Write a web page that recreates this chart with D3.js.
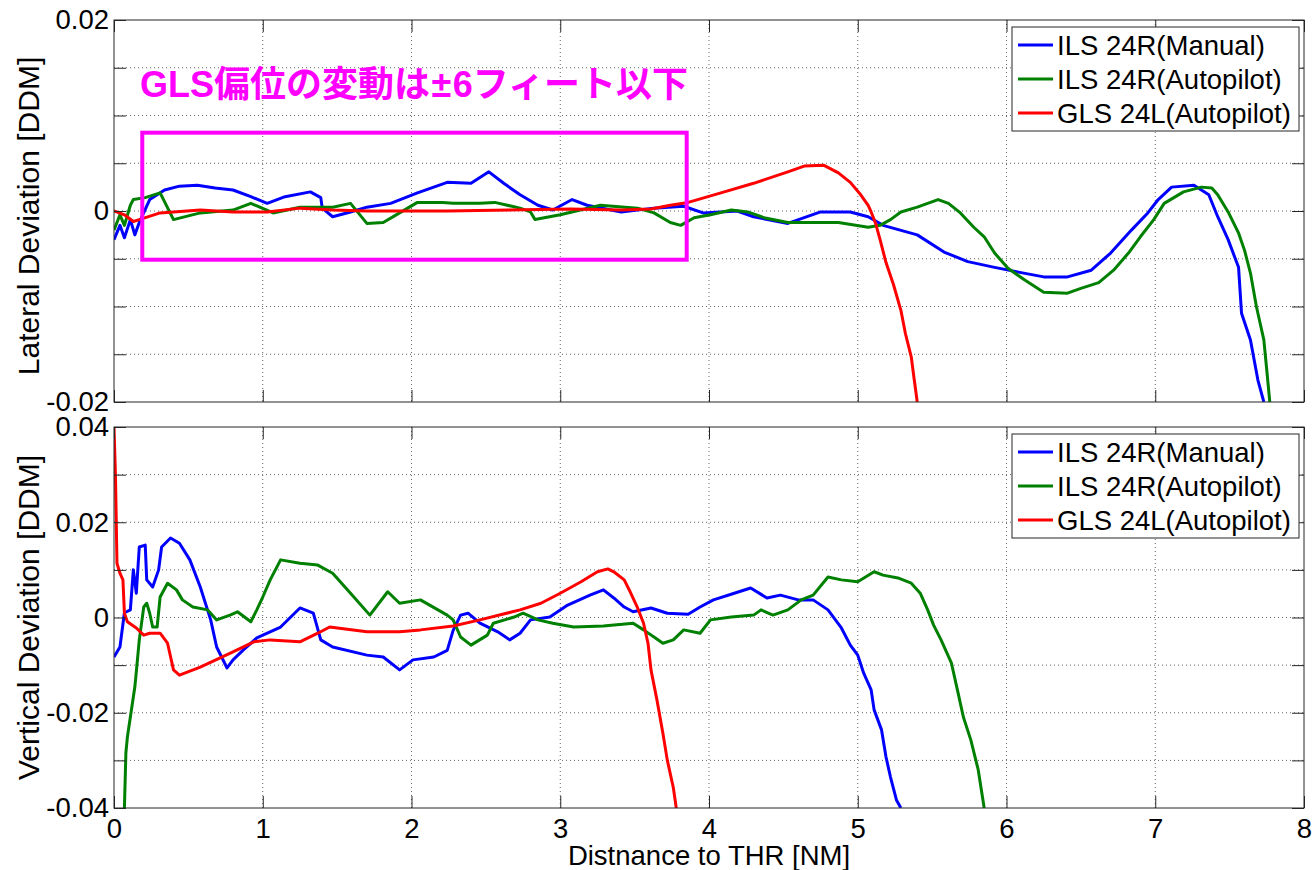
<!DOCTYPE html>
<html>
<head>
<meta charset="utf-8">
<script src="https://cdn.jsdelivr.net/npm/d3@7"></script>
<style>
  body { margin: 0; background: #fff; }
  text { font-family: "Liberation Sans", Arial, sans-serif; fill: #000; }
</style>
</head>
<body>
<svg id="chart" width="1313" height="870"></svg>
<script>
// ---- data: [distance to THR (NM), deviation (DDM)] ----
var seriesNames = ["ILS 24R(Manual)", "ILS 24R(Autopilot)", "GLS 24L(Autopilot)"];
var seriesColors = ["#0000ff", "#008000", "#ff0000"];

var latBlue = [[0.00,-0.0030],[0.04,-0.0015],[0.07,-0.0028],[0.11,-0.0009],[0.14,-0.0025],[0.17,-0.0012],
  [0.24,0.0012],[0.34,0.0022],[0.44,0.0026],[0.56,0.0027],[0.68,0.0024],[0.80,0.0022],[0.92,0.0015],
  [1.03,0.0008],[1.15,0.0015],[1.32,0.0020],[1.39,0.0014],[1.40,0.0003],[1.47,-0.0006],[1.59,-0.0001],
  [1.70,0.0004],[1.86,0.0008],[2.04,0.0019],[2.24,0.0030],[2.40,0.0029],[2.52,0.0041],[2.62,0.0029],
  [2.73,0.0017],[2.85,0.0006],[2.95,0.0001],[3.08,0.0012],[3.18,0.0006],[3.41,-0.0001],[3.63,0.0003],
  [3.83,0.0005],[3.96,-0.0002],[4.19,0.0000],[4.30,-0.0006],[4.53,-0.0013],[4.75,-0.0001],[4.95,-0.0001],
  [5.07,-0.0006],[5.17,-0.0015],[5.40,-0.0025],[5.58,-0.0043],[5.74,-0.0053],[5.92,-0.0059],[6.08,-0.0064],
  [6.25,-0.0069],[6.41,-0.0069],[6.57,-0.0062],[6.70,-0.0044],[6.84,-0.0020],[6.95,-0.0002],[7.02,0.0012],
  [7.11,0.0025],[7.26,0.0027],[7.36,0.0017],[7.42,-0.0006],[7.49,-0.0030],[7.56,-0.0059],[7.58,-0.0107],
  [7.64,-0.0135],[7.69,-0.0177],[7.73,-0.0200]];

var latGreen = [[0.00,-0.0020],[0.04,-0.0004],[0.07,-0.0015],[0.11,0.0006],[0.13,0.0012],[0.21,0.0014],
  [0.31,0.0019],[0.40,-0.0009],[0.58,-0.0002],[0.80,0.0001],[0.92,0.0008],[1.07,-0.0002],[1.25,0.0004],
  [1.47,0.0004],[1.59,0.0008],[1.70,-0.0013],[1.81,-0.0012],[1.92,-0.0002],[2.04,0.0009],[2.21,0.0009],
  [2.28,0.0008],[2.46,0.0008],[2.56,0.0009],[2.73,0.0003],[2.80,-0.0001],[2.83,-0.0009],[3.00,-0.0004],
  [3.27,0.0006],[3.52,0.0003],[3.63,-0.0002],[3.74,-0.0012],[3.81,-0.0015],[3.90,-0.0007],[4.01,-0.0004],
  [4.15,0.0001],[4.26,-0.0001],[4.37,-0.0007],[4.53,-0.0012],[4.87,-0.0012],[5.07,-0.0017],[5.15,-0.0015],
  [5.22,-0.0009],[5.29,-0.0001],[5.40,0.0004],[5.54,0.0012],[5.61,0.0008],[5.69,-0.0002],[5.78,-0.0017],
  [5.85,-0.0027],[5.92,-0.0044],[6.01,-0.0060],[6.12,-0.0072],[6.25,-0.0085],[6.41,-0.0086],[6.50,-0.0081],
  [6.62,-0.0075],[6.72,-0.0062],[6.82,-0.0044],[6.90,-0.0027],[6.99,-0.0009],[7.06,0.0008],[7.19,0.0020],
  [7.31,0.0025],[7.38,0.0024],[7.42,0.0017],[7.49,-0.0001],[7.56,-0.0023],[7.60,-0.0041],[7.64,-0.0065],
  [7.68,-0.0100],[7.73,-0.0135],[7.75,-0.0167],[7.77,-0.0200]];

var latRed = [[0.00,0.0000],[0.07,-0.0004],[0.13,-0.0011],[0.17,-0.0009],[0.31,-0.0002],[0.58,0.0001],
  [0.80,-0.0001],[1.03,-0.0001],[1.25,0.0003],[1.47,0.0001],[1.70,0.0000],[2.24,0.0000],[3.07,0.0002],
  [3.41,0.0001],[3.61,0.0002],[3.74,0.0006],[3.86,0.0009],[4.08,0.0019],[4.30,0.0029],[4.53,0.0041],
  [4.64,0.0047],[4.77,0.0048],[4.87,0.0040],[4.95,0.0030],[5.02,0.0017],[5.07,0.0006],[5.09,-0.0001],
  [5.12,-0.0013],[5.15,-0.0030],[5.19,-0.0054],[5.24,-0.0077],[5.29,-0.0104],[5.32,-0.0128],
  [5.36,-0.0153],[5.38,-0.0177],[5.40,-0.0200]];

var vertBlue = [[0.00,-0.0083],[0.04,-0.0062],[0.07,0.0010],[0.11,0.0016],[0.13,0.0100],[0.15,0.0051],
  [0.17,0.0148],[0.21,0.0152],[0.22,0.0079],[0.26,0.0064],[0.30,0.0100],[0.32,0.0148],[0.38,0.0167],
  [0.44,0.0156],[0.51,0.0121],[0.58,0.0064],[0.65,-0.0005],[0.69,-0.0062],[0.76,-0.0106],[0.80,-0.0089],
  [0.87,-0.0068],[0.96,-0.0043],[1.12,-0.0020],[1.25,0.0020],[1.34,0.0009],[1.39,-0.0047],[1.47,-0.0062],
  [1.70,-0.0079],[1.81,-0.0083],[1.92,-0.0110],[2.01,-0.0089],[2.15,-0.0083],[2.24,-0.0069],[2.28,-0.0027],
  [2.33,0.0005],[2.38,0.0009],[2.46,-0.0012],[2.58,-0.0030],[2.66,-0.0047],[2.73,-0.0033],[2.80,-0.0005],
  [2.93,0.0001],[3.05,0.0026],[3.20,0.0047],[3.29,0.0058],[3.36,0.0041],[3.43,0.0022],[3.49,0.0012],
  [3.61,0.0020],[3.72,0.0009],[3.86,0.0007],[3.94,0.0022],[4.03,0.0037],[4.17,0.0051],[4.28,0.0062],
  [4.39,0.0041],[4.48,0.0047],[4.60,0.0037],[4.70,0.0037],[4.80,0.0016],[4.89,-0.0022],[4.95,-0.0058],
  [5.00,-0.0079],[5.04,-0.0117],[5.09,-0.0152],[5.11,-0.0194],[5.16,-0.0236],[5.19,-0.0293],
  [5.22,-0.0335],[5.26,-0.0383],[5.29,-0.0400]];

var vertGreen = [[0.07,-0.0400],[0.08,-0.0284],[0.09,-0.0251],[0.13,-0.0167],[0.14,-0.0146],[0.15,-0.0114],
  [0.17,-0.0047],[0.20,0.0022],[0.22,0.0030],[0.24,0.0009],[0.26,-0.0020],[0.29,-0.0020],[0.31,0.0043],
  [0.36,0.0072],[0.42,0.0058],[0.46,0.0037],[0.53,0.0022],[0.63,0.0016],[0.69,-0.0005],[0.78,0.0005],
  [0.83,0.0012],[0.92,-0.0009],[0.96,0.0016],[1.00,0.0043],[1.05,0.0079],[1.12,0.0121],[1.25,0.0114],
  [1.37,0.0110],[1.47,0.0093],[1.59,0.0051],[1.72,0.0005],[1.84,0.0054],[1.92,0.0030],[2.06,0.0037],
  [2.24,0.0005],[2.28,-0.0005],[2.33,-0.0041],[2.40,-0.0058],[2.51,-0.0037],[2.55,-0.0012],[2.69,0.0001],
  [2.75,0.0009],[2.85,-0.0005],[2.95,-0.0012],[3.09,-0.0020],[3.29,-0.0018],[3.49,-0.0012],[3.56,-0.0026],
  [3.63,-0.0041],[3.69,-0.0054],[3.76,-0.0047],[3.83,-0.0026],[3.94,-0.0033],[4.01,-0.0005],[4.15,0.0001],
  [4.30,0.0005],[4.35,0.0016],[4.43,0.0005],[4.53,0.0016],[4.62,0.0037],[4.70,0.0047],[4.80,0.0085],
  [4.89,0.0079],[5.00,0.0075],[5.11,0.0096],[5.17,0.0089],[5.27,0.0083],[5.36,0.0072],[5.42,0.0051],
  [5.47,0.0016],[5.51,-0.0016],[5.56,-0.0047],[5.63,-0.0096],[5.67,-0.0152],[5.71,-0.0209],[5.76,-0.0257],
  [5.81,-0.0320],[5.85,-0.0400]];

var vertRed = [[0.00,0.0400],[0.01,0.0295],[0.02,0.0114],[0.04,0.0093],[0.06,0.0079],[0.07,0.0009],
  [0.09,-0.0009],[0.15,-0.0022],[0.20,-0.0037],[0.24,-0.0033],[0.31,-0.0033],[0.36,-0.0054],[0.40,-0.0110],
  [0.44,-0.0121],[0.58,-0.0104],[0.80,-0.0072],[0.94,-0.0051],[1.05,-0.0047],[1.25,-0.0051],[1.37,-0.0033],
  [1.45,-0.0020],[1.70,-0.0030],[1.92,-0.0030],[2.06,-0.0026],[2.28,-0.0018],[2.46,-0.0005],[2.73,0.0016],
  [2.87,0.0030],[3.00,0.0051],[3.14,0.0075],[3.25,0.0096],[3.32,0.0102],[3.36,0.0096],[3.43,0.0079],
  [3.47,0.0054],[3.52,0.0020],[3.56,-0.0012],[3.59,-0.0054],[3.61,-0.0110],[3.65,-0.0173],[3.69,-0.0243],
  [3.72,-0.0300],[3.76,-0.0357],[3.78,-0.0400]];

var xTicks = [0, 1, 2, 3, 4, 5, 6, 7, 8];
var latTicks = [-0.02, -0.015, -0.01, -0.005, 0, 0.005, 0.01, 0.015, 0.02];
var latLabels = [-0.02, 0, 0.02];
var vertTicks = [-0.04, -0.03, -0.02, -0.01, 0, 0.01, 0.02, 0.03, 0.04];
var vertLabels = [-0.04, -0.02, 0, 0.02, 0.04];

var noteParts = ["GLS偏位の変動は", "±", "6フィート以下"];
var noteAnchor = [0.175, 0.0119];          // NM, DDM
var noteBox = [[0.19, 0.0082], [3.85, -0.0051]];

// ---- layout ----
var svg = d3.select("#chart");
var fs = 27.5;
var axisColor = "#262626";

var x = d3.scaleLinear().domain([0, 8]).range([114, 1304]);

function drawPanel(p) {
  var y = d3.scaleLinear().domain([p.ticks[0], p.ticks[p.ticks.length - 1]]).range([p.bottom, p.top]);
  var g = svg.append("g");

  // dotted grid
  g.append("g").selectAll("line").data(xTicks.slice(1, -1)).join("line")
    .attr("x1", d => x(d)).attr("x2", d => x(d))
    .attr("y1", p.top).attr("y2", p.bottom)
    .attr("stroke", "#666").attr("stroke-width", 1).attr("stroke-dasharray", "1,3");
  g.append("g").selectAll("line").data(p.ticks.slice(1, -1)).join("line")
    .attr("x1", x(0)).attr("x2", x(8))
    .attr("y1", d => y(d)).attr("y2", d => y(d))
    .attr("stroke", "#666").attr("stroke-width", 1).attr("stroke-dasharray", "1,3");

  // clipped data lines
  svg.append("clipPath").attr("id", p.id + "clip")
    .append("rect").attr("x", x(0)).attr("y", p.top)
    .attr("width", x(8) - x(0)).attr("height", p.bottom - p.top);

  var line = d3.line().x(d => x(d[0])).y(d => y(d[1]));
  g.append("g").attr("clip-path", "url(#" + p.id + "clip)")
    .selectAll("path").data(p.series).join("path")
    .attr("d", line)
    .attr("fill", "none")
    .attr("stroke", (d, i) => seriesColors[i])
    .attr("stroke-width", 3)
    .attr("stroke-linejoin", "round");

  // axes, ticks pointing inward on all four sides
  var fmt = d => p.labels.indexOf(d) >= 0 ? (d === 0 ? "0" : String(d)) : "";
  var left = g.append("g").attr("transform", "translate(" + x(0) + ",0)")
    .call(d3.axisLeft(y).tickValues(p.ticks).tickSizeInner(-12).tickSizeOuter(0).tickPadding(5).tickFormat(fmt));
  var right = g.append("g").attr("transform", "translate(" + x(8) + ",0)")
    .call(d3.axisRight(y).tickValues(p.ticks).tickSizeInner(-12).tickSizeOuter(0).tickFormat(""));
  var top = g.append("g").attr("transform", "translate(0," + p.top + ")")
    .call(d3.axisTop(x).tickValues(xTicks).tickSizeInner(-12).tickSizeOuter(0).tickFormat(""));
  var bottom = g.append("g").attr("transform", "translate(0," + p.bottom + ")")
    .call(d3.axisBottom(x).tickValues(xTicks).tickSizeInner(-12).tickSizeOuter(0).tickPadding(10)
      .tickFormat(p.xLabels ? (d => String(d)) : ""));

  [left, right, top, bottom].forEach(function(a) {
    a.select(".domain").remove();
    a.selectAll("line").attr("stroke", axisColor);
    a.selectAll("text").style("font-size", fs + "px").attr("fill", "#000")
      .style("font-family", "'Liberation Sans', Arial, sans-serif");
  });

  g.append("rect")
    .attr("x", x(0)).attr("y", p.top)
    .attr("width", x(8) - x(0)).attr("height", p.bottom - p.top)
    .attr("fill", "none").attr("stroke", axisColor).attr("stroke-width", 1);

  // y-axis title
  g.append("text")
    .attr("transform", "translate(28," + ((p.top + p.bottom) / 2 + p.labelShift) + ") rotate(-90)")
    .attr("text-anchor", "middle").attr("dy", "0.35em")
    .style("font-size", "30px")
    .text(p.ylabel);

  // legend
  var lg = g.append("g").attr("transform", "translate(1012," + (p.top + 7) + ")");
  lg.append("rect").attr("width", 287).attr("height", 104)
    .attr("fill", "#fff").attr("stroke", axisColor).attr("stroke-width", 1);
  var rows = lg.selectAll("g").data(seriesNames).join("g")
    .attr("transform", (d, i) => "translate(0," + (18 + i * 34) + ")");
  rows.append("line").attr("x1", 6).attr("x2", 41)
    .attr("stroke", (d, i) => seriesColors[i]).attr("stroke-width", 3);
  rows.append("text").attr("x", 45).attr("dy", "0.36em")
    .style("font-size", fs + "px").text(d => d);

  return y;
}

var yLat = drawPanel({
  id: "lat", top: 20, bottom: 402, ticks: latTicks, labels: latLabels, xLabels: false, labelShift: 5,
  ylabel: "Lateral Deviation [DDM]", series: [latBlue, latGreen, latRed]
});

drawPanel({
  id: "vert", top: 427, bottom: 808, ticks: vertTicks, labels: vertLabels, xLabels: true, labelShift: 0,
  ylabel: "Vertical Deviation [DDM]", series: [vertBlue, vertGreen, vertRed]
});

// x-axis title
svg.append("text")
  .attr("x", (x(0) + x(8)) / 2).attr("y", 865)
  .attr("text-anchor", "middle")
  .style("font-size", fs + "px")
  .text("Distnance to THR [NM]");

// annotation on the lateral panel
svg.append("rect")
  .attr("x", x(noteBox[0][0])).attr("y", yLat(noteBox[0][1]))
  .attr("width", x(noteBox[1][0]) - x(noteBox[0][0]))
  .attr("height", yLat(noteBox[1][1]) - yLat(noteBox[0][1]))
  .attr("fill", "none").attr("stroke", "#ff00ff").attr("stroke-width", 4);

var note = svg.append("text")
  .attr("x", x(noteAnchor[0])).attr("y", yLat(noteAnchor[1]))
  .style("font-size", "36px").style("font-weight", "bold")
  .style("font-family", "'Liberation Sans', 'Noto Sans CJK JP', sans-serif")
  .style("fill", "#ff00ff");
// the plus-minus sign gets a little extra room, as in the original
note.selectAll("tspan").data(noteParts).join("tspan")
  .attr("dx", (d, i) => i === 0 ? 0 : 1.5)
  .text(d => d);
</script>
</body>
</html>
